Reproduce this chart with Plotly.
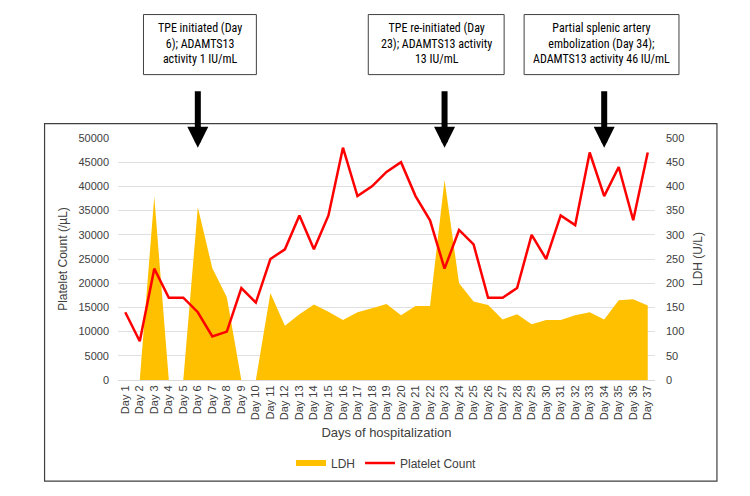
import plotly.graph_objects as go

days = [f"Day {i}" for i in range(1, 38)]
platelets = [14000, 8000, 23000, 17000, 17000, 14000, 9000, 10000, 19000, 16000,
             25000, 27000, 34000, 27000, 34000, 48000, 38000, 40000, 43000, 45000,
             38000, 33000, 23000, 31000, 28000, 17000, 17000, 19000, 30000, 25000,
             34000, 32000, 47000, 38000, 44000, 33000, 47000]
ldh = [0, 0, 379, 0, 0, 357, 231, 171, 0, 0,
       180, 112, 136, 156, 141, 124, 140, 148, 157, 134,
       153, 153, 413, 200, 162, 155, 125, 136, 115, 124,
       124, 134, 140, 125, 165, 167, 154]

event_days = ["Day 6", "Day 23", "Day 34"]
event_texts = ["TPE initiated (Day<br>6); ADAMTS13<br>activity 1 IU/mL",
               "TPE re-initiated (Day<br>23); ADAMTS13 activity<br>13 IU/mL",
               "Partial splenic artery<br>embolization (Day 34);<br>ADAMTS13 activity 46 IU/mL"]
box_px = [(143, 256), (368, 504), (524, 679)]

W, H = 750, 496
L, R, T, B = 117.5, 655, 138.3, 380

def px(x):
    return (x - L) / (R - L)

def py(y):
    return (B - y) / (B - T)

FONT = "Liberation Sans, Arial, sans-serif"
TXT = "#404040"

fig = go.Figure()
fig.add_trace(go.Scatter(x=days, y=ldh, name="LDH", yaxis="y", mode="none",
                         fill="tozeroy", fillcolor="#FFC000", line=dict(width=0)))
fig.add_trace(go.Scatter(x=days, y=platelets, name="Platelet Count", mode="lines",
                         yaxis="y2", line=dict(color="#FF0000", width=2.5)))

shapes = [dict(type="rect", xref="paper", yref="paper", x0=px(44), x1=px(717),
               y0=py(481), y1=py(124), line=dict(color="#404040", width=1.2),
               layer="below")]
annotations = []
for d, t, (x0, x1) in zip(event_days, event_texts, box_px):
    shapes.append(dict(type="rect", xref="paper", yref="paper", x0=px(x0), x1=px(x1),
                       y0=py(75), y1=py(15), line=dict(color="#404040", width=1)))
    annotations.append(dict(xref="paper", yref="paper", x=px((x0 + x1) / 2), y=py(44),
                            text=t, showarrow=False, xanchor="center", yanchor="middle",
                            font=dict(family="Liberation Sans Narrow, Arial Narrow, Roboto Condensed, sans-serif",
                                      size=12, color="#000000"), align="center"))
    annotations.append(dict(xref="x", yref="paper", x=d, y=py(148), text="",
                            showarrow=True, ax=0, ay=-58, arrowhead=2, arrowsize=0.7,
                            arrowwidth=6, arrowcolor="#000000", standoff=0))

fig.update_layout(
    width=W, height=H,
    margin=dict(l=L, r=W - R, t=T, b=H - B),
    paper_bgcolor="white", plot_bgcolor="white",
    font=dict(family=FONT, size=11, color=TXT),
    showlegend=True,
    legend=dict(orientation="h", x=0.5, xanchor="center", y=py(463), yanchor="middle",
                font=dict(size=12, color="#404040"), itemwidth=30, traceorder="normal"),
    xaxis=dict(type="category", range=[-0.5, 36.5], tickangle=-90, showgrid=False,
               showline=True, linecolor="#d9d9d9", linewidth=1, ticks="",
               tickfont=dict(size=11, color=TXT),
               title=dict(text="Days of hospitalization", font=dict(size=13, color="#404040"),
                          standoff=8)),
    yaxis=dict(range=[0, 500], dtick=50, side="right", showgrid=True, gridcolor="#e0e0e0",
               gridwidth=1, zeroline=False, ticks="", ticklabelstandoff=10,
               tickfont=dict(size=11, color=TXT),
               title=dict(text="LDH (U/L)", font=dict(size=12, color="#404040"),
                          standoff=10)),
    yaxis2=dict(range=[0, 50000], dtick=5000, overlaying="y", side="left", showgrid=False,
                zeroline=False, ticks="", ticklabelstandoff=8, tickformat="d",
                tickfont=dict(size=11, color=TXT),
                title=dict(text="Platelet Count (/µL)", font=dict(size=12, color="#404040"),
                           standoff=8)),
    shapes=shapes,
    annotations=annotations,
)

fig.write_html("out.html")
